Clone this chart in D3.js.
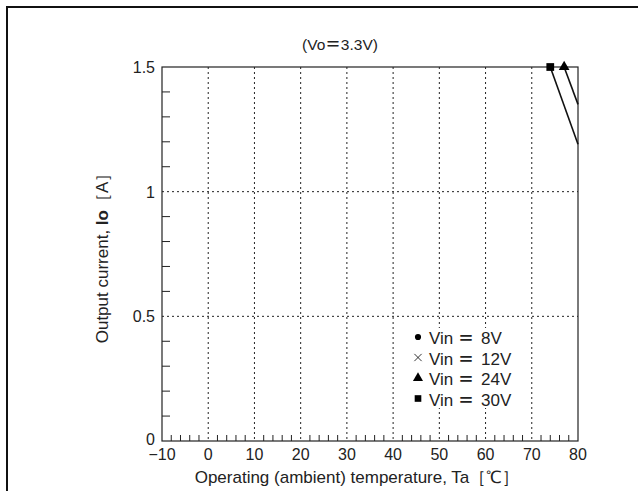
<!DOCTYPE html>
<html>
<head>
<meta charset="utf-8">
<script src="https://cdn.jsdelivr.net/npm/d3@7"></script>
<style>
  body { margin: 0; background: #fff; }
  svg { display: block; font-family: "Liberation Sans", Arial, sans-serif; }
  .fw { font-family: "Noto Sans CJK JP", sans-serif; font-weight: bold; }
</style>
</head>
<body>
<svg id="chart" width="638" height="491"></svg>
<script>
// Data
const xTicks = [-10, 0, 10, 20, 30, 40, 50, 60, 70, 80];
const yTicks = [0, 0.5, 1, 1.5];
const yTickLabels = ['0', '0.5', '1', '1.5'];
const seriesVin = ['8V', '12V', '24V', '30V'];
const seriesSymbols = ['circle', 'cross', 'triangle', 'square'];
// derating curves (only 24V and 30V fall inside the plotted range)
const temp24 = [77, 80];
const curr24 = [1.5, 1.35];
const temp30 = [74, 80];
const curr30 = [1.5, 1.19];

const svg = d3.select('#chart');
const margin = { left: 162, right: 60, top: 67, bottom: 50 };
const width = 638, height = 491;

const x = d3.scaleLinear().domain([-10, 80]).range([margin.left, width - margin.right]);
const y = d3.scaleLinear().domain([0, 1.5]).range([height - margin.bottom, margin.top]);

// outer frame (open at right and bottom)
svg.append('path')
  .attr('d', `M7,491 L7,7 L638,7`)
  .attr('fill', 'none')
  .attr('stroke', '#111')
  .attr('stroke-width', 2);

// title
const title = svg.append('text')
  .attr('x', 340).attr('y', 50)
  .attr('text-anchor', 'middle')
  .style('font-size', '15.5px')
  .attr('fill', '#222');
title.append('tspan').text('(Vo');
title.append('tspan').attr('class', 'fw').text('＝');
title.append('tspan').text('3.3V)');

const g = svg.append('g');

// dotted grid
g.selectAll('.vgrid')
  .data(xTicks.filter(d => d > -10 && d < 80))
  .enter().append('line')
  .attr('x1', d => x(d)).attr('x2', d => x(d))
  .attr('y1', y(1.5)).attr('y2', y(0))
  .attr('stroke', '#222')
  .attr('stroke-width', 1)
  .attr('stroke-dasharray', '2,3');

g.selectAll('.hgrid')
  .data([0.5, 1])
  .enter().append('line')
  .attr('x1', x(-10)).attr('x2', x(80))
  .attr('y1', d => y(d)).attr('y2', d => y(d))
  .attr('stroke', '#222')
  .attr('stroke-width', 1)
  .attr('stroke-dasharray', '2,3');

// minor ticks on y (every 0.1, inward)
const yMinor = d3.range(1, 15).map(i => i / 10).filter(v => Math.abs(v - 0.5) > 1e-6 && Math.abs(v - 1) > 1e-6);
g.selectAll('.yminor')
  .data(yMinor)
  .enter().append('line')
  .attr('x1', x(-10)).attr('x2', x(-10) + 8)
  .attr('y1', d => y(d)).attr('y2', d => y(d))
  .attr('stroke', '#222');

// minor ticks on x (every 2, inward)
const xMinor = d3.range(-8, 80, 2).filter(v => v % 10 !== 0);
g.selectAll('.xminor')
  .data(xMinor)
  .enter().append('line')
  .attr('x1', d => x(d)).attr('x2', d => x(d))
  .attr('y1', y(0)).attr('y2', y(0) - 6)
  .attr('stroke', '#222');

// plot box
g.append('rect')
  .attr('x', x(-10)).attr('y', y(1.5))
  .attr('width', x(80) - x(-10)).attr('height', y(0) - y(1.5))
  .attr('fill', 'none')
  .attr('stroke', '#222')
  .attr('stroke-width', 1.2);

// tick labels
g.selectAll('.xlab')
  .data(xTicks)
  .enter().append('text')
  .attr('x', d => x(d))
  .attr('y', y(0) + 19)
  .attr('text-anchor', 'middle')
  .style('font-size', '16px')
  .attr('fill', '#222')
  .text(d => d < 0 ? '−' + Math.abs(d) : d);

g.selectAll('.ylab')
  .data(yTicks)
  .enter().append('text')
  .attr('x', x(-10) - 7)
  .attr('y', d => y(d) + (d === 0 ? 4 : 6))
  .attr('text-anchor', 'end')
  .style('font-size', '16px')
  .attr('fill', '#222')
  .text((d, i) => yTickLabels[i]);

// axis titles
svg.append('text')
  .attr('x', 357).attr('y', 483)
  .attr('text-anchor', 'middle')
  .style('font-size', '17px')
  .attr('fill', '#222')
  .text('Operating (ambient) temperature, Ta［℃］');

const yTitle = svg.append('text')
  .attr('transform', `translate(108, ${y(0.75)}) rotate(-90)`)
  .attr('text-anchor', 'middle')
  .style('font-size', '17px')
  .attr('fill', '#222');
yTitle.append('tspan').text('Output current,  ');
yTitle.append('tspan').style('font-weight', 'bold').text('Io');
yTitle.append('tspan').text('［A］');

// curves
const line = d3.line().x(d => x(d[0])).y(d => y(d[1]));
const curves = [
  { t: temp24, c: curr24, sym: 'triangle' },
  { t: temp30, c: curr30, sym: 'square' }
];
const symType = { circle: d3.symbolCircle, cross: d3.symbolTimes, triangle: d3.symbolTriangle, square: d3.symbolSquare };
const symSize = { circle: 36, cross: 40, triangle: 50, square: 60 };

curves.forEach(cv => {
  const pts = cv.t.map((t, i) => [t, cv.c[i]]);
  g.append('path')
    .attr('d', line(pts))
    .attr('fill', 'none')
    .attr('stroke', '#111')
    .attr('stroke-width', 1.6);
  g.append('path')
    .attr('d', d3.symbol().type(symType[cv.sym]).size(symSize[cv.sym])())
    .attr('transform', `translate(${x(pts[0][0])},${y(pts[0][1])})`)
    .attr('fill', '#000');
});

// legend (white box hides the grid behind it)
const legend = g.append('g').attr('transform', 'translate(418, 337)');
legend.append('rect')
  .attr('x', -8).attr('y', -9)
  .attr('width', 92).attr('height', 80)
  .attr('fill', '#fff');
seriesVin.forEach((v, i) => {
  const row = legend.append('g').attr('transform', `translate(0, ${i * 20.5})`);
  const s = seriesSymbols[i];
  const sym = row.append('path')
    .attr('d', d3.symbol().type(symType[s]).size(s === 'circle' ? 30 : s === 'cross' ? 36 : 44)())
    .attr('fill', '#000');
  if (s === 'cross') sym.attr('stroke', '#000').attr('stroke-width', 0.8);
  row.append('text')
    .attr('x', 11).attr('y', 7)
    .style('font-size', '17px')
    .attr('fill', '#222')
    .text('Vin');
  row.append('text')
    .attr('class', 'fw')
    .attr('x', 48).attr('y', 7)
    .attr('text-anchor', 'middle')
    .style('font-size', '16px')
    .attr('fill', '#222')
    .text('＝');
  row.append('text')
    .attr('x', 63).attr('y', 7)
    .style('font-size', '17px')
    .attr('fill', '#222')
    .text(v);
});
</script>
</body>
</html>
